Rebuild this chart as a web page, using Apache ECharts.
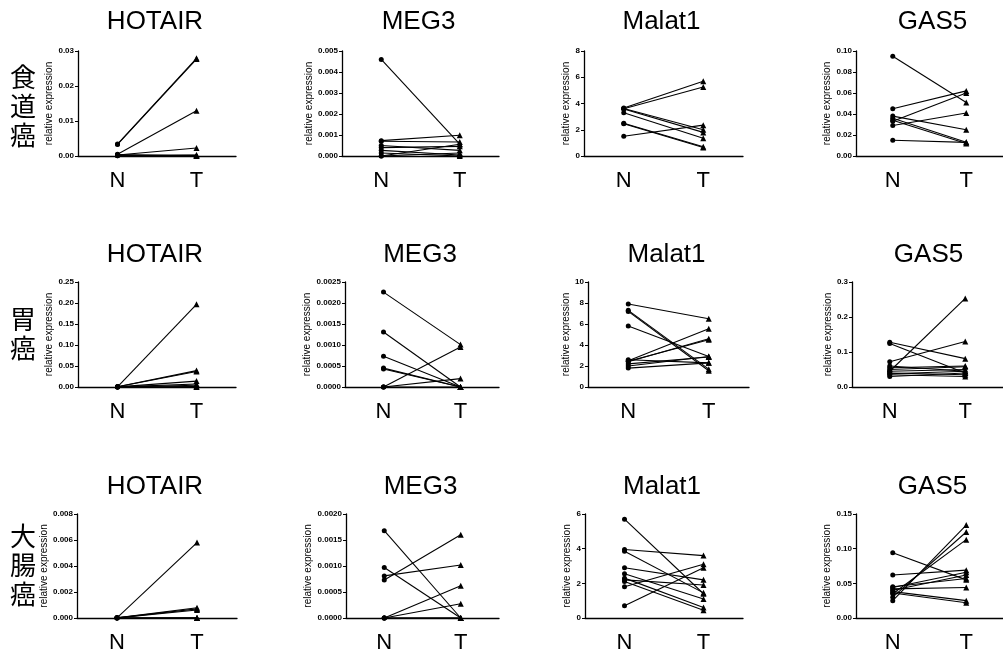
<!DOCTYPE html>
<html>
<head>
<meta charset="utf-8">
<script src="https://cdn.jsdelivr.net/npm/echarts@6/dist/echarts.min.js"></script>
<style>
  html, body { margin: 0; background: #fff; }
  #chart { width: 1003px; height: 654px; }
</style>
</head>
<body>
<div id="chart"></div>
<script>
const categories = ['N', 'T'];
const genes = ['HOTAIR', 'MEG3', 'Malat1', 'GAS5'];
const cancers = ['食道癌', '胃癌', '大腸癌'];

// 食道癌 (esophageal), paired N -> T values
const escHotairN = [0.0034, 0.0033, 0.0005, 0.0003, 0.0002, 0.0001, 0.0004, 0.0001];
const escHotairT = [0.0279, 0.0277, 0.0129, 0.0023, 0.0002, 0.0001, 0.0000, 0.0003];
const escMeg3N = [0.0046, 0.00073, 0.00070, 0.0005, 0.0004, 0.00027, 0.00014, 0.0000, 0.0000];
const escMeg3T = [0.00056, 0.00099, 0.00067, 0.00027, 0.00046, 0.00005, 0.0000, 0.00056, 0.00014];
const escMalatN = [3.65, 3.6, 3.62, 3.58, 3.3, 2.5, 2.45, 1.5];
const escMalatT = [5.7, 5.25, 2.0, 1.8, 1.35, 0.7, 0.65, 2.35];
const escGas5N = [0.095, 0.045, 0.033, 0.029, 0.038, 0.036, 0.034, 0.015];
const escGas5T = [0.051, 0.062, 0.060, 0.041, 0.025, 0.013, 0.012, 0.013];

// 胃癌 (gastric)
const gasHotairN = [0.0005, 0.0005, 0.0004, 0.0003, 0.0002, 0.0001, 0.0001, 0.0];
const gasHotairT = [0.197, 0.039, 0.037, 0.014, 0.007, 0.004, 0.001, 0.0];
const gasMeg3N = [0.00226, 0.00131, 0.00073, 0.00045, 0.00043, 0.0, 0.0, 0.0];
const gasMeg3T = [0.00101, 0.0, 0.0, 0.0, 0.0, 0.00095, 0.0002, 0.0];
const gasMalatN = [7.9, 7.3, 7.2, 5.8, 2.5, 2.4, 2.45, 2.6, 2.2, 2.0, 1.8];
const gasMalatT = [6.5, 1.7, 1.55, 2.9, 5.55, 4.6, 4.5, 2.3, 2.85, 2.9, 2.3];
const gasGas5N = [0.045, 0.072, 0.128, 0.124, 0.060, 0.055, 0.050, 0.045, 0.040, 0.038, 0.035, 0.030];
const gasGas5T = [0.253, 0.130, 0.081, 0.040, 0.045, 0.060, 0.058, 0.050, 0.035, 0.045, 0.030, 0.040];

// 大腸癌 (colorectal)
const crcHotairN = [0.00001, 0.00001, 0.00001, 0.00001, 0.0, 0.0, 0.0];
const crcHotairT = [0.0058, 0.00079, 0.0007, 0.00062, 0.00002, 0.0, 0.0];
const crcMeg3N = [0.00168, 0.00097, 0.00081, 0.00073, 0.0, 0.0, 0.0, 0.0];
const crcMeg3T = [0.0, 0.0, 0.00102, 0.0016, 0.00062, 0.000275, 0.0, 0.0];
const crcMalatN = [5.7, 3.95, 3.85, 2.9, 2.55, 2.3, 2.2, 2.1, 1.8, 0.7];
const crcMalatT = [1.4, 3.6, 1.45, 2.2, 1.1, 0.6, 1.9, 0.45, 3.1, 2.9];
const crcGas5N = [0.094, 0.062, 0.025, 0.030, 0.035, 0.044, 0.040, 0.042, 0.038, 0.036, 0.045];
const crcGas5T = [0.055, 0.069, 0.134, 0.124, 0.113, 0.066, 0.062, 0.044, 0.025, 0.022, 0.057];

// y axis ranges per panel (row = cancer, col = gene)
const yMax = [[0.03, 0.005, 8, 0.10], [0.25, 0.0025, 10, 0.3], [0.008, 0.0020, 6, 0.15]];
const yStep = [[0.01, 0.001, 2, 0.02], [0.05, 0.0005, 2, 0.1], [0.002, 0.0005, 2, 0.05]];
const yDigits = [[2, 3, 0, 2], [2, 4, 0, 1], [3, 4, 0, 2]];

const panels = [
  [[escHotairN, escHotairT], [escMeg3N, escMeg3T], [escMalatN, escMalatT], [escGas5N, escGas5T]],
  [[gasHotairN, gasHotairT], [gasMeg3N, gasMeg3T], [gasMalatN, gasMalatT], [gasGas5N, gasGas5T]],
  [[crcHotairN, crcHotairT], [crcMeg3N, crcMeg3T], [crcMalatN, crcMalatT], [crcGas5N, crcGas5T]]
];

// layout (pixels)
const rowTop = [51, 282, 514];
const rowHeight = 105;
const colLeft = [[78, 342, 584, 856], [78, 345, 588, 852], [77, 346, 585, 856]];
const colWidth = [[158, 157, 159, 157], [158, 154, 161, 157], [160, 153, 158, 157]];
const nameGaps = [[23, 27, 9, 21], [21, 29, 13, 19], [20, 31, 11, 23]];
const titleY = [22, 255, 487];
const labelY = [106, 334, 565];

const FONT = '"Liberation Sans", Arial, sans-serif';
const chart = echarts.init(document.getElementById('chart'));

const grid = [], xAxis = [], yAxis = [], series = [], graphic = [];

panels.forEach((row, r) => {
  graphic.push({
    type: 'text', x: 23, y: labelY[r],
    style: {
      text: cancers[r].split('').join('\n'),
      font: '26px "Noto Sans CJK JP"', lineHeight: 29,
      fill: '#000', align: 'center', verticalAlign: 'middle'
    }
  });
  row.forEach(([nVals, tVals], c) => {
    const idx = grid.length;
    grid.push({ left: colLeft[r][c], top: rowTop[r], width: colWidth[r][c], height: rowHeight });
    graphic.push({
      type: 'text', x: colLeft[r][c] + colWidth[r][c] / 2 - 2, y: titleY[r],
      style: {
        text: genes[c], font: '26px ' + FONT, fill: '#000',
        align: 'center', verticalAlign: 'middle'
      }
    });
    xAxis.push({
      gridIndex: idx, type: 'category', data: categories, boundaryGap: true,
      axisLine: { lineStyle: { color: '#000', width: 1.3 } },
      axisTick: { alignWithLabel: true, length: 3, lineStyle: { color: '#bbb' } },
      axisLabel: { color: '#000', fontSize: 22, fontFamily: FONT, margin: 14 }
    });
    yAxis.push({
      gridIndex: idx, type: 'value', min: 0, max: yMax[r][c], interval: yStep[r][c],
      name: 'relative expression', nameLocation: 'middle', nameGap: nameGaps[r][c],
      nameTextStyle: { color: '#000', fontSize: 10, fontFamily: FONT },
      splitLine: { show: false },
      axisLine: { show: true, lineStyle: { color: '#000', width: 1.3 } },
      axisTick: { show: true, length: 3, lineStyle: { color: '#000' } },
      axisLabel: {
        color: '#000', fontSize: 8, fontWeight: 'bold', fontFamily: FONT, margin: 4,
        formatter: v => v.toFixed(yDigits[r][c])
      }
    });
    nVals.forEach((n, i) => {
      series.push({
        type: 'line', xAxisIndex: idx, yAxisIndex: idx,
        data: [
          { value: n, symbol: 'circle', symbolSize: 5 },
          { value: tVals[i], symbol: 'triangle', symbolSize: 6 }
        ],
        lineStyle: { color: '#000', width: 1.1 },
        itemStyle: { color: '#000' },
        silent: true
      });
    });
  });
});

chart.setOption({
  animation: false,
  backgroundColor: '#fff',
  grid, xAxis, yAxis, series, graphic
});
</script>
</body>
</html>
